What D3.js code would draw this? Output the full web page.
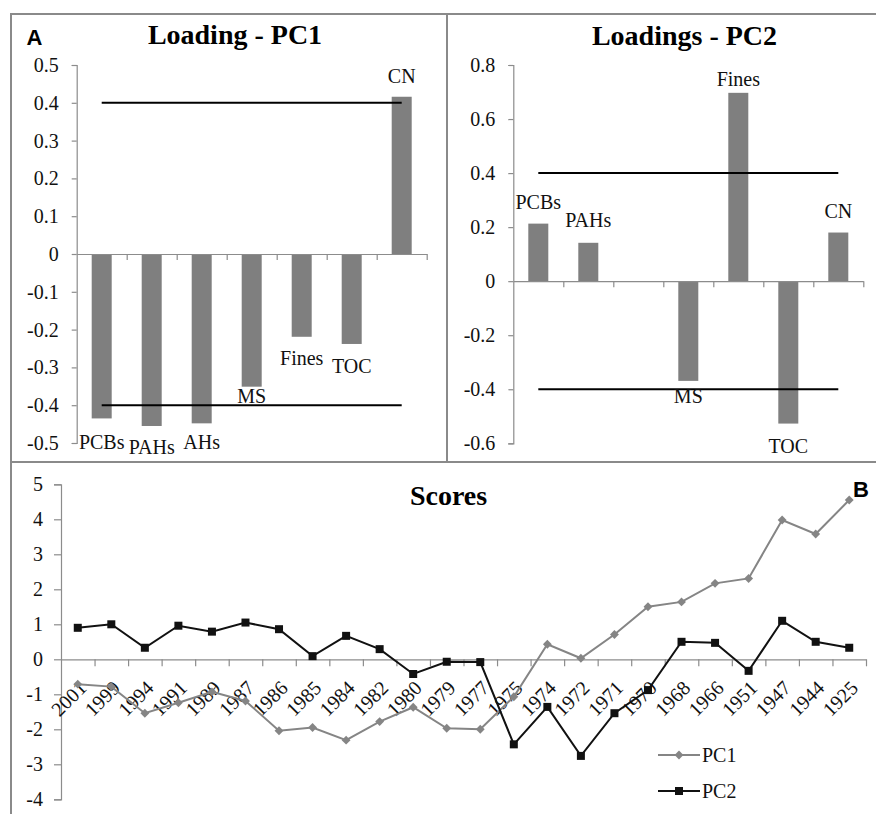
<!DOCTYPE html>
<html>
<head>
<meta charset="utf-8">
<script src="https://cdn.jsdelivr.net/npm/d3@7"></script>
<style>
  html, body { margin: 0; padding: 0; background: #fff; }
  svg { display: block; }
</style>
</head>
<body>
<svg id="chart" width="876" height="814"></svg>
<script>
// ---------------- DATA ----------------
const variables = ["PCBs", "PAHs", "AHs", "MS", "Fines", "TOC", "CN"];
const pc1Loadings = [-0.435, -0.455, -0.448, -0.351, -0.219, -0.238, 0.416];
const pc2Loadings = [0.213, 0.142, 0.0, -0.369, 0.697, -0.527, 0.180];
const pc1BarLabels = ["PCBs", "PAHs", "AHs", "MS", "Fines", "TOC", "CN"];
const pc2BarLabels = ["PCBs", "PAHs", "", "MS", "Fines", "TOC", "CN"];
const thresholds = [0.4, -0.4];
const pc1Ticks = [0.5, 0.4, 0.3, 0.2, 0.1, 0, -0.1, -0.2, -0.3, -0.4, -0.5];
const pc2Ticks = [0.8, 0.6, 0.4, 0.2, 0, -0.2, -0.4, -0.6];

const years = ["2001", "1999", "1994", "1991", "1989", "1987", "1986", "1985", "1984", "1982", "1980", "1979",
               "1977", "1975", "1974", "1972", "1971", "1970", "1968", "1966", "1951", "1947", "1944", "1925"];
const pc1Scores = [-0.71, -0.78, -1.54, -1.24, -0.93, -1.19, -2.04, -1.95, -2.31, -1.78, -1.37, -1.97,
                   -2.00, -1.07, 0.43, 0.03, 0.71, 1.50, 1.64, 2.17, 2.31, 3.98, 3.58, 4.55];
const pc2Scores = [0.90, 1.00, 0.33, 0.96, 0.79, 1.05, 0.86, 0.09, 0.67, 0.29, -0.42, -0.07,
                   -0.08, -2.43, -1.36, -2.76, -1.54, -0.88, 0.50, 0.47, -0.33, 1.10, 0.50, 0.33];
const scoreTicks = [5, 4, 3, 2, 1, 0, -1, -2, -3, -4];
const seriesNames = ["PC1", "PC2"];

// label nudges (px) for the loading bar labels (layout, not data)
const pc1LabelDy = [31, 28.5, 26, 16.5, 28, 29, -14];
const pc2LabelDy = [-15, -15.5, 0, 22, -7, 29, -15];

// ---------------- STYLE ----------------
const SERIF = "'Liberation Serif', 'Times New Roman', serif";
const SANS = "'Liberation Sans', Arial, sans-serif";
const frameColor = "#8a8a8a";
const axisColor = "#8c8c8c";
const barColor = "#7f7f7f";
const pc1Color = "#858585";
const pc2Color = "#111111";
const tickFont = 20;

const svg = d3.select("#chart");

// frames
const frame = svg.append("g").attr("stroke", frameColor).attr("stroke-width", 2).attr("fill", "none");
frame.append("line").attr("x1", 11).attr("x2", 876).attr("y1", 14).attr("y2", 14);
frame.append("line").attr("x1", 11).attr("x2", 11).attr("y1", 13).attr("y2", 814);
frame.append("line").attr("x1", 447).attr("x2", 447).attr("y1", 14).attr("y2", 462);
frame.append("line").attr("x1", 11).attr("x2", 876).attr("y1", 462).attr("y2", 462);

const fmt = d => String(+(+d).toFixed(1));

function serifText(sel, size) {
  return sel.style("font-family", SERIF).style("font-size", size + "px").style("fill", "#111");
}

function styleAxis(g) {
  g.attr("font-family", null).attr("font-size", null);
  g.selectAll("path, line").attr("stroke", axisColor).attr("stroke-width", 1.2);
  serifText(g.selectAll("text"), tickFont);
}

function loadingPanel(opts) {
  const { x0, x1, yTop, yBot, domain, ticks, values, labels, dy, title, titleX, titleY } = opts;
  const g = svg.append("g");
  const x = d3.scaleBand().domain(variables).range([x0, x1]).paddingInner(0.6).paddingOuter(0.3);
  const xb = d3.scaleLinear().domain([0, variables.length]).range([x0, x1]);
  const y = d3.scaleLinear().domain(domain).range([yBot, yTop]);

  g.selectAll("rect.bar").data(values).join("rect")
    .attr("x", (d, i) => x(variables[i]))
    .attr("width", x.bandwidth())
    .attr("y", d => y(Math.max(0, d)))
    .attr("height", d => Math.abs(y(d) - y(0)))
    .attr("fill", barColor);

  const ya = g.append("g").attr("transform", `translate(${x0},0)`)
    .call(d3.axisLeft(y).tickValues(ticks).tickFormat(fmt).tickSize(5).tickSizeOuter(5).tickPadding(13));
  styleAxis(ya);

  const xa = g.append("g").attr("transform", `translate(0,${y(0)})`)
    .call(d3.axisBottom(xb).tickValues(d3.range(1, variables.length + 1)).tickFormat("").tickSize(6).tickSizeOuter(0));
  styleAxis(xa);

  const line = d3.line().x(d => x(d[0]) + x.bandwidth() / 2).y(d => y(d[1]));
  thresholds.forEach(t => {
    g.append("path")
      .attr("d", line(variables.map(v => [v, t])))
      .attr("stroke", "#000").attr("stroke-width", 2).attr("fill", "none");
  });

  serifText(g.selectAll("text.lab").data(values).join("text")
    .attr("class", "lab")
    .attr("x", (d, i) => x(variables[i]) + x.bandwidth() / 2)
    .attr("y", (d, i) => y(d) + dy[i])
    .attr("text-anchor", "middle")
    .text((d, i) => labels[i]), tickFont);

  serifText(g.append("text").attr("x", titleX).attr("y", titleY).attr("text-anchor", "middle")
    .style("font-weight", "bold").text(title), 28).style("fill", "#000");
}

loadingPanel({
  x0: 76.7, x1: 426.7, yTop: 65, yBot: 443, domain: [-0.5, 0.5], ticks: pc1Ticks,
  values: pc1Loadings, labels: pc1BarLabels, dy: pc1LabelDy,
  title: "Loading - PC1", titleX: 235, titleY: 44
});
loadingPanel({
  x0: 513.3, x1: 863.3, yTop: 65, yBot: 443.3, domain: [-0.6, 0.8], ticks: pc2Ticks,
  values: pc2Loadings, labels: pc2BarLabels, dy: pc2LabelDy,
  title: "Loadings - PC2", titleX: 684.5, titleY: 45
});

// panel letters
svg.append("text").attr("x", 26.5).attr("y", 45).style("font-size", "22px").style("font-weight", "bold")
  .style("font-family", SANS).style("fill", "#000").text("A");
svg.append("text").attr("x", 853).attr("y", 497).style("font-size", "22px").style("font-weight", "bold")
  .style("font-family", SANS).style("fill", "#000").text("B");

// ---------------- SCORES ----------------
(function () {
  const x0 = 61, x1 = 866, yTop = 484.3, yBot = 799.3;
  const g = svg.append("g");
  const x = d3.scalePoint().domain(years).range([x0, x1]).padding(0.5);
  const xb = d3.scaleLinear().domain([0, years.length]).range([x0, x1]);
  const y = d3.scaleLinear().domain([-4, 5]).range([yBot, yTop]);

  const ya = g.append("g").attr("transform", `translate(${x0},0)`)
    .call(d3.axisLeft(y).tickValues(scoreTicks).tickFormat(d => String(d)).tickSize(7).tickSizeOuter(7).tickPadding(11));
  styleAxis(ya);

  const xa = g.append("g").attr("transform", `translate(0,${y(0)})`)
    .call(d3.axisBottom(xb).tickValues(d3.range(1, years.length + 1)).tickFormat("").tickSize(7).tickSizeOuter(0));
  styleAxis(xa);

  serifText(g.selectAll("text.yr").data(years).join("text")
    .attr("class", "yr")
    .attr("text-anchor", "end")
    .attr("transform", d => `translate(${x(d) + 10},${y(0) + 30}) rotate(-45)`)
    .text(d => d), tickFont);

  const line = d3.line().x((d, i) => x(years[i])).y(d => y(d));
  const diamond = d3.symbol(d3.symbolDiamond2, 50);

  g.append("path").attr("d", line(pc1Scores)).attr("fill", "none")
    .attr("stroke", pc1Color).attr("stroke-width", 2);
  g.selectAll("path.dia").data(pc1Scores).join("path").attr("class", "dia")
    .attr("d", diamond)
    .attr("transform", (d, i) => `translate(${x(years[i])},${y(d)})`)
    .attr("fill", pc1Color);

  g.append("path").attr("d", line(pc2Scores)).attr("fill", "none")
    .attr("stroke", pc2Color).attr("stroke-width", 2);
  g.selectAll("rect.sq").data(pc2Scores).join("rect").attr("class", "sq")
    .attr("x", (d, i) => x(years[i]) - 4).attr("y", d => y(d) - 4)
    .attr("width", 8).attr("height", 8).attr("fill", pc2Color);

  serifText(g.append("text").attr("x", 448.5).attr("y", 505).attr("text-anchor", "middle")
    .style("font-weight", "bold").text("Scores"), 28).style("fill", "#000");

  const lg = g.append("g");
  const items = [{ name: seriesNames[0], color: pc1Color, sym: "dia", y: 755 },
                 { name: seriesNames[1], color: pc2Color, sym: "sq", y: 791 }];
  items.forEach(it => {
    lg.append("line").attr("x1", 658).attr("x2", 700).attr("y1", it.y).attr("y2", it.y)
      .attr("stroke", it.color).attr("stroke-width", 2);
    if (it.sym === "dia") {
      lg.append("path").attr("d", diamond)
        .attr("transform", `translate(679,${it.y})`).attr("fill", it.color);
    } else {
      lg.append("rect").attr("x", 675).attr("y", it.y - 4).attr("width", 8).attr("height", 8).attr("fill", it.color);
    }
    serifText(lg.append("text").attr("x", 702).attr("y", it.y + 6.5).text(it.name), tickFont);
  });
})();
</script>
</body>
</html>
